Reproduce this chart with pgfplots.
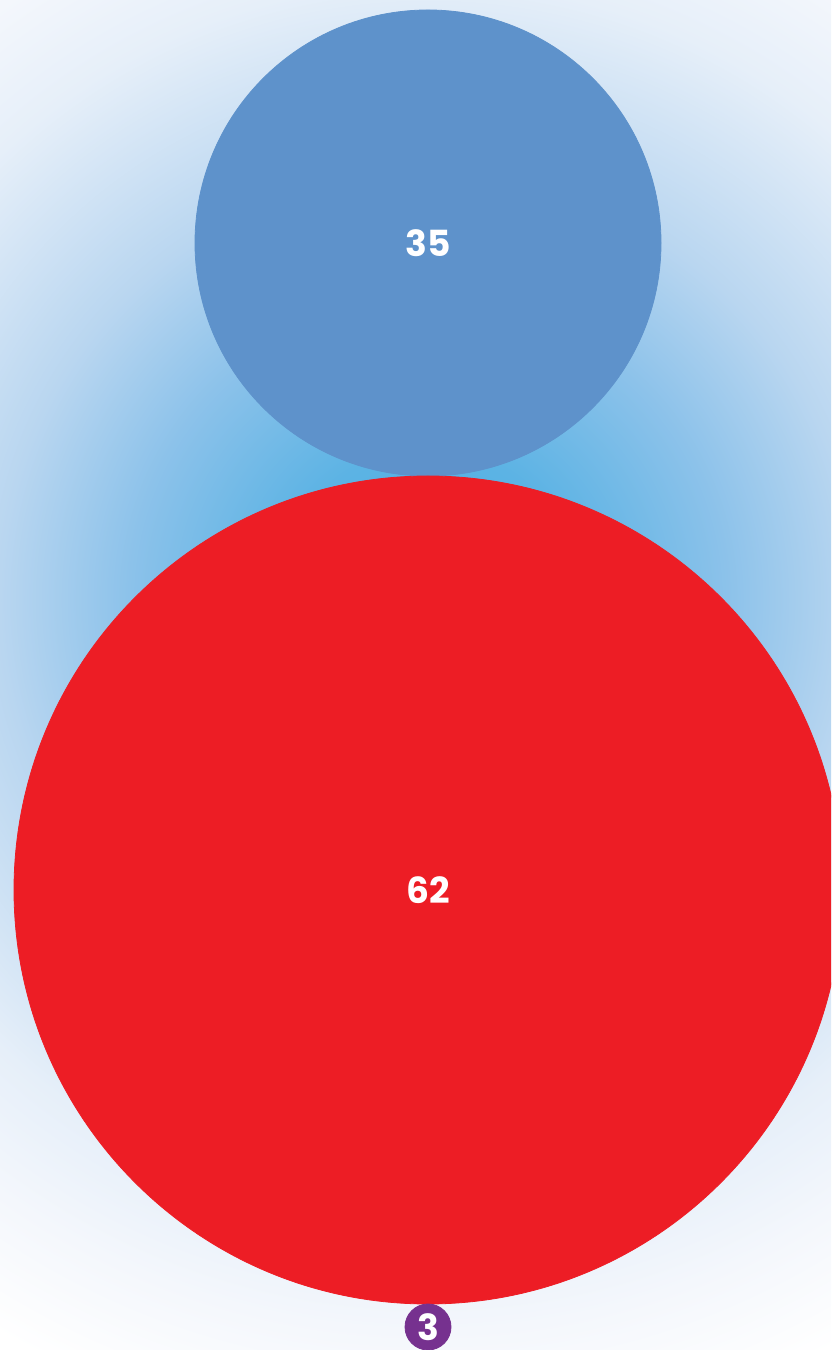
\documentclass[border=0pt]{standalone}
\usepackage{pgfplots}
\pgfplotsset{compat=1.18}
\usepackage{fontspec}
\setmainfont{Poppins}
\definecolor{bubbleblue}{HTML}{5E92CB}
\definecolor{bubblered}{HTML}{ED1D25}
\definecolor{bubblepurple}{HTML}{76318F}
\definecolor{g0}{HTML}{49AEE6}
\definecolor{g1}{HTML}{5CB3E4}
\definecolor{g2}{HTML}{8CC2EA}
\definecolor{g3}{HTML}{B9D6F0}
\definecolor{g4}{HTML}{E6EFF9}
\definecolor{g5}{HTML}{F4F7FC}
\pgfdeclareradialshading{bg}{\pgfpoint{0bp}{0bp}}{color(0bp)=(g0); color(4.4bp)=(g1); color(8.8bp)=(g2); color(12.6bp)=(g3); color(18.2bp)=(g4); color(21.5bp)=(g5); color(25bp)=(white); color(50bp)=(white)}
\begin{document}
\begin{tikzpicture}
\begin{axis}[name=A, scale only axis, width=415.5pt, height=675pt,
  xmin=0, xmax=831, ymin=0, ymax=1350, hide axis,
  clip marker paths=true,
  nodes near coords, point meta=explicit symbolic,
  every node near coord/.append style={anchor=center, text=white, inner sep=0pt,
    font=\fontsize{18}{18}\selectfont\bfseries}]
\fill[white] (axis cs:0,0) rectangle (axis cs:831,1350);
\shade[shading=bg] (axis cs:428,750) circle[radius=425pt];
\addplot[only marks, mark=*, mark size=116.5pt, draw=bubbleblue, fill=bubbleblue] coordinates {(428,1107)[35]};
\addplot[only marks, mark=*, mark size=207pt, draw=bubblered, fill=bubblered] coordinates {(428,460)[62]};
\addplot[only marks, mark=*, mark size=11.5pt, draw=bubblepurple, fill=bubblepurple] coordinates {(428,23)[3]};
\end{axis}
\pgfresetboundingbox
\useasboundingbox (A.south west) rectangle (A.north east);
\end{tikzpicture}
\end{document}
